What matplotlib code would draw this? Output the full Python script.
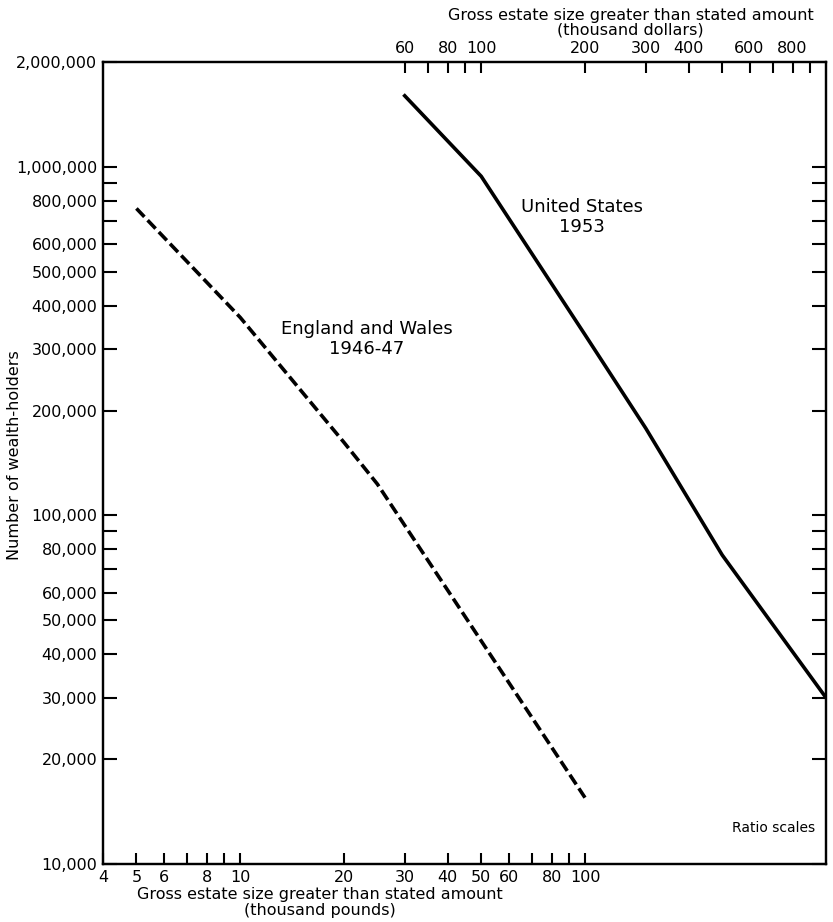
import matplotlib
matplotlib.use("Agg")
import matplotlib.pyplot as plt
from matplotlib.ticker import FixedLocator, FixedFormatter, NullLocator

# England and Wales, 1946-47 (estate size in thousand pounds)
uk_pounds = [5, 10, 20, 25, 100]
uk_holders = [760000, 370000, 162000, 123000, 15500]

# United States, 1953 (estate size in thousand dollars)
us_dollars = [60, 100, 200, 300, 500, 1000]
us_holders = [1600000, 940000, 330000, 178000, 77000, 30000]

pound_ticks = [4, 5, 6, 7, 8, 9, 10, 20, 30, 40, 50, 60, 70, 80, 90, 100]
pound_labels = ["4", "5", "6", "", "8", "", "10", "20", "30", "40", "50", "60",
                "", "80", "", "100"]

dollar_ticks = [60, 70, 80, 90, 100, 200, 300, 400, 500, 600, 700, 800, 900]
dollar_labels = ["60", "", "80", "", "100", "200", "300", "400", "", "600", "",
                 "800", ""]

holder_ticks = [10000, 20000, 30000, 40000, 50000, 60000, 70000, 80000, 90000,
                100000, 200000, 300000, 400000, 500000, 600000, 700000,
                800000, 900000, 1000000, 2000000]
holder_labels = ["10,000", "20,000", "30,000", "40,000", "50,000", "60,000", "",
                 "80,000", "", "100,000", "200,000", "300,000", "400,000",
                 "500,000", "600,000", "", "800,000", "", "1,000,000",
                 "2,000,000"]

plt.rcParams["font.family"] = ["DejaVu Sans"]

fig = plt.figure(figsize=(8.33, 9.22), dpi=100)
ax = fig.add_axes([103 / 833, 58 / 922, 723 / 833, 802 / 922])
ax.set_xscale("log")
ax.set_yscale("log")
ax.set_xlim(4, 500)
ax.set_ylim(10000, 2000000)

top = ax.twiny()
top.set_xscale("log")
top.set_xlim(8, 1000)

ax.plot(uk_pounds, uk_holders, color="black", lw=2.6,
        dashes=(3.2, 1.3), dash_capstyle="butt", solid_capstyle="butt")
top.plot(us_dollars, us_holders, color="black", lw=2.6)

for a in (ax, top):
    for s in a.spines.values():
        s.set_linewidth(1.6)

ax.xaxis.set_major_locator(FixedLocator(pound_ticks))
ax.xaxis.set_major_formatter(FixedFormatter(pound_labels))
ax.xaxis.set_minor_locator(NullLocator())
ax.yaxis.set_major_locator(FixedLocator(holder_ticks))
ax.yaxis.set_major_formatter(FixedFormatter(holder_labels))
ax.yaxis.set_minor_locator(NullLocator())
top.xaxis.set_major_locator(FixedLocator(dollar_ticks))
top.xaxis.set_major_formatter(FixedFormatter(dollar_labels))
top.xaxis.set_minor_locator(NullLocator())

ax.tick_params(axis="x", which="major", direction="in", length=8, width=1.5,
               labelsize=11.5, pad=4, bottom=True, top=False)
ax.tick_params(axis="y", which="major", direction="in", length=10, width=1.5,
               labelsize=11.5, pad=4, left=True, right=True, labelright=False)
top.tick_params(axis="x", which="major", direction="in", length=8, width=1.5,
                labelsize=11.5, pad=4)

ax.set_xlabel("Gross estate size greater than stated amount\n(thousand pounds)",
              fontsize=11.5, linespacing=1.1)
ax.xaxis.set_label_coords(0.300, -0.029)
top.set_xlabel("Gross estate size greater than stated amount\n(thousand dollars)",
               fontsize=11.5, linespacing=1.0)
top.xaxis.set_label_coords(0.730, 1.034)
ax.set_ylabel("Number of wealth-holders", fontsize=11.5)
ax.yaxis.set_label_coords(-0.112, 0.51)

ax.text(23.3, 321000, "England and Wales\n1946-47", ha="center", va="center",
        fontsize=13, linespacing=1.15)
top.text(196, 720000, "United States\n1953", ha="center", va="center",
         fontsize=13, linespacing=1.15)
ax.text(0.985, 0.045, "Ratio scales", transform=ax.transAxes, ha="right",
        va="center", fontsize=10)

fig.savefig("out.png", dpi=100)
